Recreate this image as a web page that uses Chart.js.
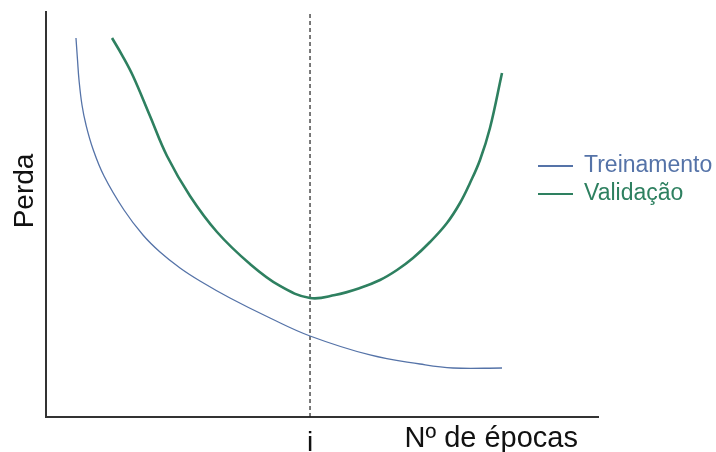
<!DOCTYPE html>
<html>
<head>
<meta charset="utf-8">
<script src="https://cdn.jsdelivr.net/npm/chart.js@4.4.0/dist/chart.umd.min.js"></script>
<style>
html,body{margin:0;padding:0;background:#fff}
#wrap{width:716px;height:452px}
</style>
</head>
<body>
<div id="wrap"><canvas id="c"></canvas></div>
<script>
const C_TRAIN = '#5573a8';
const C_VAL   = '#2e8060';
const FONT = '"Liberation Sans", Arial, sans-serif';

// curva de treinamento
const trainX = [5.43, 5.71, 5.98, 6.52, 7.25, 8.51, 10.51, 14.13, 17.57, 20.65, 24.28, 27.90, 33.33, 40.58, 47.83, 58.70, 67.75, 73.73, 82.61];
const trainY = [93.58, 88.15, 83.21, 77.04, 72.10, 66.17, 59.51, 51.11, 44.94, 40.74, 36.79, 33.58, 29.38, 24.44, 20.00, 15.31, 13.09, 12.10, 12.10];
// curva de validação
const valX = [11.96, 13.77, 15.76, 18.84, 21.92, 26.09, 30.98, 36.96, 42.39, 47.83, 52.36, 56.88, 60.51, 63.59, 66.49, 69.57, 72.64, 75.00, 76.81, 78.62, 80.43, 82.61];
const valY = [93.58, 89.38, 84.20, 74.32, 64.44, 54.57, 45.68, 37.78, 32.35, 29.38, 30.12, 31.85, 33.83, 36.30, 39.26, 43.21, 47.90, 52.84, 57.78, 63.46, 71.36, 84.94];
// época i (mínimo da validação)
const markX = 47.83;
const markLabel = 'i';
const seriesNames = ['Treinamento', 'Validação'];
const xTitle = 'Nº de épocas';
const yTitle = 'Perda';

const pts = (xs, ys) => xs.map((x, i) => ({x, y: ys[i]}));

// textos dos eixos + legenda
const textPlugin = {
  id: 'texts',
  afterDraw(chart){
    const {ctx, chartArea: a, scales: {x}} = chart;
    ctx.save();
    ctx.fillStyle = '#111';
    ctx.font = '28px ' + FONT;
    ctx.textBaseline = 'alphabetic';
    ctx.textAlign = 'center';
    ctx.fillText(markLabel, x.getPixelForValue(markX), 451);
    ctx.textAlign = 'right';
    ctx.font = '29px ' + FONT;
    ctx.fillText(xTitle, a.right - 20, 447);

    ctx.save();
    ctx.font = '28px ' + FONT;
    ctx.translate(33, 191);
    ctx.rotate(-Math.PI / 2);
    ctx.textAlign = 'center';
    ctx.fillText(yTitle, 0, 0);
    ctx.restore();

    // legenda
    ctx.font = '23px ' + FONT;
    ctx.textAlign = 'left';
    ctx.textBaseline = 'middle';
    chart.data.datasets.filter(d => d.label).forEach((d, i) => {
      const y = 166 + i * 28;
      ctx.strokeStyle = d.borderColor;
      ctx.lineWidth = 2;
      ctx.beginPath(); ctx.moveTo(538, y); ctx.lineTo(573, y); ctx.stroke();
      ctx.fillStyle = d.borderColor;
      ctx.fillText(d.label, 584, y);
    });
    ctx.restore();
  }
};

new Chart(document.getElementById('c'), {
  type: 'line',
  data: {
    datasets: [
      {label: seriesNames[0], data: pts(trainX, trainY), borderColor: C_TRAIN, borderWidth: 1.3,
       tension: 0.4, pointRadius: 0},
      {label: seriesNames[1], data: pts(valX, valY), borderColor: C_VAL, borderWidth: 2.6,
       tension: 0.4, pointRadius: 0},
      {data: [{x: markX, y: 0}, {x: markX, y: 100}], borderColor: '#222', borderWidth: 1.2,
       borderDash: [4, 3], pointRadius: 0}
    ]
  },
  options: {
    responsive: true, maintainAspectRatio: false, animation: false,
    layout: {padding: {left: 46, right: 118, top: 12, bottom: 35}},
    plugins: {legend: {display: false}, tooltip: {enabled: false}},
    scales: {
      x: {type: 'linear', min: 0, max: 100, ticks: {display: false}, grid: {display: false},
          border: {display: true, color: '#333', width: 2}, afterFit(s){ s.height = 0; }},
      y: {type: 'linear', min: 0, max: 100, ticks: {display: false}, grid: {display: false},
          border: {display: true, color: '#333', width: 2}, afterFit(s){ s.width = 0; }}
    }
  },
  plugins: [textPlugin]
});
</script>
</body>
</html>
